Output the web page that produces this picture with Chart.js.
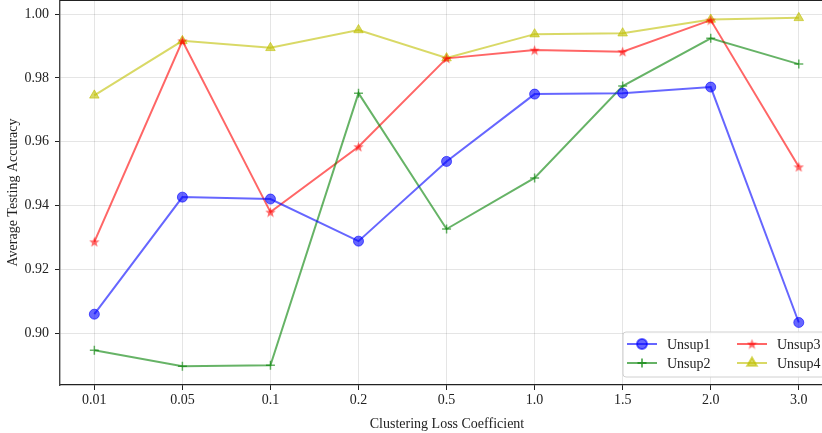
<!DOCTYPE html>
<html>
<head>
<meta charset="utf-8">
<script src="https://cdn.jsdelivr.net/npm/chart.js@4"></script>
<style>
  html, body { margin: 0; padding: 0; background: #fff; overflow: hidden; }
  #wrap { width: 838px; height: 433px; }
</style>
</head>
<body>
<div id="wrap"><canvas id="acc-chart" width="838" height="433"></canvas></div>
<script>
const coefficients = ['0.01', '0.05', '0.1', '0.2', '0.5', '1.0', '1.5', '2.0', '3.0'];
const unsup1 = [0.9059, 0.9426, 0.9420, 0.9288, 0.9538, 0.9749, 0.9752, 0.9771, 0.9033];
const unsup2 = [0.8946, 0.8896, 0.8899, 0.9752, 0.9326, 0.9486, 0.9774, 0.9924, 0.9843];
const unsup3 = [0.9286, 0.9916, 0.9379, 0.9584, 0.9861, 0.9887, 0.9882, 0.9981, 0.9521];
const unsup4 = [0.9745, 0.9916, 0.9894, 0.9950, 0.9862, 0.9937, 0.9940, 0.9983, 0.9988];
const yTicks = [0.90, 0.92, 0.94, 0.96, 0.98, 1.00];

const FONT = 'Liberation Serif';

// filled five point star, like matplotlib's '*'
function starMarker(color, size) {
  const c = document.createElement('canvas');
  c.width = size; c.height = size;
  const g = c.getContext('2d');
  const cx = size / 2, cy = size / 2 + 0.5, R = size / 2, r = R * 0.42;
  g.beginPath();
  for (let i = 0; i < 10; i++) {
    const rad = i % 2 ? r : R;
    const a = -Math.PI / 2 + i * Math.PI / 5;
    g.lineTo(cx + rad * Math.cos(a), cy + rad * Math.sin(a));
  }
  g.closePath();
  g.fillStyle = color;
  g.fill();
  return c;
}

const blue = 'rgba(0,0,255,0.6)';
const green = 'rgba(0,128,0,0.6)';
const red = 'rgba(255,0,0,0.6)';
const yellow = 'rgba(191,191,0,0.6)';

const series = [
  { label: 'Unsup1', data: unsup1, color: blue, pointStyle: 'circle', radius: 5, bw: 1 },
  { label: 'Unsup2', data: unsup2, color: green, pointStyle: 'cross', radius: 4.5, bw: 1.5 },
  { label: 'Unsup3', data: unsup3, color: red, pointStyle: starMarker(red, 11), radius: 5, bw: 1 },
  { label: 'Unsup4', data: unsup4, color: yellow, pointStyle: 'triangle', radius: 5.5, bw: 1 }
];

// legend drawn inside the plot, lower right, two columns
const innerLegend = {
  id: 'innerLegend',
  afterDatasetsDraw(chart) {
    const ctx = chart.ctx;
    const x0 = 623, y0 = 332, w = 230, h = 45;
    ctx.save();
    ctx.beginPath();
    ctx.roundRect(x0, y0, w, h, 3);
    ctx.fillStyle = 'rgba(255,255,255,0.85)';
    ctx.fill();
    ctx.strokeStyle = '#d0d0d0';
    ctx.lineWidth = 1;
    ctx.stroke();
    const cols = [627, 737];
    const rows = [344, 363];
    const order = [[0, 0], [1, 0], [0, 1], [1, 1]]; // [row, col] per series
    series.forEach((s, i) => {
      const [r, c] = order[i];
      const lx = cols[c], ly = rows[r];
      ctx.strokeStyle = s.color;
      ctx.lineWidth = 2;
      ctx.beginPath();
      ctx.moveTo(lx, ly); ctx.lineTo(lx + 30, ly);
      ctx.stroke();
      ctx.fillStyle = s.color;
      Chart.helpers.drawPoint(ctx, { pointStyle: s.pointStyle, radius: s.radius, rotation: 0, borderWidth: s.bw }, lx + 15, ly);
      ctx.fillStyle = '#222';
      ctx.font = '14px "' + FONT + '"';
      ctx.textBaseline = 'middle';
      ctx.fillText(s.label, lx + 40, ly + 1);
    });
    ctx.restore();
  }
};

// top spine
const frame = {
  id: 'frame',
  afterDraw(chart) {
    const { left, right, top } = chart.chartArea;
    const ctx = chart.ctx;
    ctx.save();
    ctx.strokeStyle = '#222';
    ctx.lineWidth = 1.2;
    ctx.beginPath();
    ctx.moveTo(left, top + 0.5); ctx.lineTo(right, top + 0.5);
    ctx.stroke();
    ctx.restore();
  }
};

const ctx = document.getElementById('acc-chart').getContext('2d');
new Chart(ctx, {
  type: 'line',
  data: {
    datasets: series.map(s => ({
      label: s.label,
      data: s.data.map((v, i) => ({ x: i, y: v })),
      borderColor: s.color,
      backgroundColor: s.color,
      pointBackgroundColor: s.color,
      pointBorderColor: s.color,
      pointStyle: s.pointStyle,
      pointRadius: s.radius,
      pointBorderWidth: s.bw,
      borderWidth: 2,
      tension: 0
    }))
  },
  options: {
    responsive: false,
    animation: false,
    layout: { autoPadding: false, padding: { top: 0, right: 4, left: 0, bottom: 0 } },
    plugins: {
      legend: { display: false },
      tooltip: { enabled: false }
    },
    scales: {
      x: {
        type: 'linear',
        min: -0.39,
        max: 8.4,
        afterBuildTicks: s => { s.ticks = coefficients.map((_, i) => ({ value: i })); },
        afterFit: s => { s.height = 48; },
        ticks: {
          callback: v => coefficients[v],
          color: '#222',
          font: { family: FONT, size: 14 },
          padding: 2,
          maxRotation: 0
        },
        grid: { color: 'rgba(0,0,0,0.1)', tickColor: '#222', tickLength: 5 },
        border: { color: '#222', width: 1.2 },
        title: {
          display: true,
          text: 'Clustering Loss Coefficient',
          color: '#222',
          font: { family: FONT, size: 14 },
          padding: { top: 0, bottom: 0 }
        }
      },
      y: {
        min: 0.8837,
        max: 1.0044,
        afterBuildTicks: s => { s.ticks = yTicks.map(v => ({ value: v })); },
        afterFit: s => { s.width = 60; s.paddingTop = 0; s.paddingBottom = 0; },
        ticks: {
          callback: v => v.toFixed(2),
          color: '#222',
          font: { family: FONT, size: 14 },
          padding: 6
        },
        grid: { color: 'rgba(0,0,0,0.1)', tickColor: '#222', tickLength: 5 },
        border: { color: '#444', width: 1.4 },
        title: {
          display: true,
          text: 'Average Testing Accuracy',
          color: '#222',
          font: { family: FONT, size: 14 },
          padding: { top: 5, bottom: 0 }
        }
      }
    }
  },
  plugins: [innerLegend, frame]
});
</script>
</body>
</html>
